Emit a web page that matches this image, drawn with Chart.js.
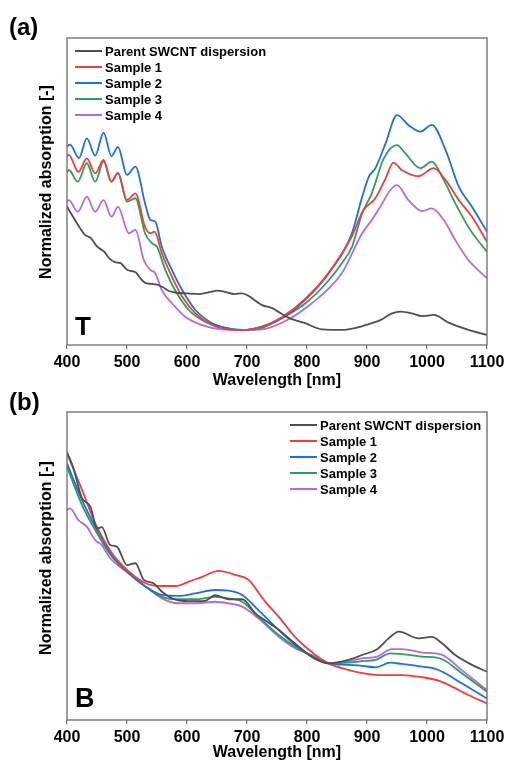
<!DOCTYPE html>
<html>
<head>
<meta charset="utf-8">
<script src="https://cdn.jsdelivr.net/npm/chart.js@4.4.1/dist/chart.umd.min.js"></script>
<style>
  html, body { margin: 0; padding: 0; background: #fff; }
  body { width: 505px; height: 760px; overflow: hidden; position: relative; }
  .panel { position: absolute; left: 0; width: 505px; }
  #boxA { top: 0; height: 395px; }
  #boxB { top: 385px; height: 380px; }
</style>
</head>
<body>
<div class="panel" id="boxA"><canvas id="chartA"></canvas></div>
<div class="panel" id="boxB"><canvas id="chartB"></canvas></div>
<script>
const FONT = '"Liberation Sans", Arial, Helvetica, sans-serif';
Chart.defaults.font.family = FONT;

const seriesNames = ['Parent SWCNT dispersion', 'Sample 1', 'Sample 2', 'Sample 3', 'Sample 4'];
const seriesColors = ['#4f4f4f', '#ef3e3e', '#1f6fdc', '#2f9e5c', '#b46ae0'];
const xTicks = [400, 500, 600, 700, 800, 900, 1000, 1100];

// ---- panel (a), T ----
const parentA_nm = [400,410,420,430,440,450,462,470,480,490,500,515,520,530,540,550,560,570,580,600,620,640,650,660,680,690,700,710,725,742,755,769,797,825,858,886,908,922,942,955,975,992,1011,1036,1069,1100];
const parentA_abs = [45.1,41.8,38.6,35.9,34.8,32.1,30.4,28.3,27.0,26.6,24.5,23.6,22.3,20.3,19.9,19.7,18.8,17.6,17.1,16.8,16.6,17.3,17.7,17.5,16.6,16.8,16.3,15.0,13.0,12.0,10.5,8.9,7.1,5.1,4.9,5.8,7.1,8.1,10.3,10.9,10.3,9.4,9.8,7.3,4.9,3.3];

const s1A_nm = [400,403,419,433,447,461,474,485,500,514,530,539,546,558,575,592,614,642,669,692,725,758,797,836,875,894,914,931,944,958,986,1011,1031,1053,1075,1100];
const s1A_abs = [61.6,61.9,56.4,60.8,55.9,60.3,53.2,55.9,47.2,49.4,38.5,36.4,36.9,29.9,22.2,15.7,10.3,6.5,5.1,4.9,6.0,9.0,15.0,23.5,35.5,44.0,47.8,54.3,59.4,57.0,55.0,57.6,53.7,47.2,41.8,33.6];

const s2A_nm = [400,405,420,433,447,461,474,485,500,514,530,539,547,558,575,592,614,642,669,692,725,758,797,836,875,892,903,914,931,950,970,989,1008,1031,1053,1075,1100];
const s2A_abs = [64.7,65.3,60.9,67.3,61.7,69.2,61.5,64.5,55.4,58.1,46.2,40.7,40.2,32.0,24.4,17.9,11.4,7.1,5.4,4.9,6.0,8.7,14.7,23.3,36.5,48.3,54.8,57.6,65.7,74.9,71.5,69.5,71.7,63.5,51.6,45.0,36.9];

const s3A_nm = [400,403,418,433,447,461,474,485,500,514,530,542,550,564,580,603,630,658,692,725,758,797,836,858,875,892,908,928,950,964,989,1008,1028,1047,1072,1100];
const s3A_abs = [56.2,57.0,53.2,59.2,53.2,59.7,53.2,56.1,46.7,47.8,36.4,33.1,32.0,24.4,17.9,11.4,7.6,5.8,4.9,5.6,8.7,13.5,21.0,26.6,32.0,42.9,49.4,60.8,65.1,62.4,57.6,59.7,53.7,46.2,37.5,30.4];

const s4A_nm = [400,403,418,433,447,461,474,485,503,514,528,539,547,558,575,597,625,658,692,725,760,808,858,892,908,922,939,950,969,992,1008,1028,1047,1069,1100];
const s4A_abs = [46.7,47.2,43.4,48.3,43.4,47.2,41.8,45.0,36.4,37.5,27.7,24.4,23.4,17.9,13.6,9.2,6.5,5.1,4.9,5.1,7.4,13.6,23.4,36.4,40.7,45.0,50.5,52.1,47.2,43.6,44.5,40.7,34.2,27.7,21.7];

// ---- panel (b), B ----
const parentB_nm = [400,410,425,439,450,458,472,483,500,514,528,544,558,575,603,630,647,669,692,714,730,750,770,790,812,836,869,892,917,936,953,986,1008,1025,1047,1075,1100];
const parentB_abs = [87.0,82.2,72.0,69.3,62.2,62.6,56.8,56.3,50.3,50.9,45.5,44.4,41.7,39.5,38.6,38.7,40.5,39.2,39.2,34.6,32.4,29.7,26.5,23.2,20.0,18.4,19.5,21.1,23.0,26.5,28.7,26.5,27.0,24.9,21.1,17.9,15.7];

const s1B_nm = [400,425,447,475,503,531,558,581,603,625,653,681,703,715,730,753,780,814,836,864,892,919,958,992,1019,1036,1069,1100];
const s1B_abs = [86.6,74.7,63.9,54.1,48.2,44.4,43.5,43.5,44.9,46.5,48.4,47.1,45.5,42.5,38.5,33.5,27.0,21.1,18.4,16.5,15.2,14.6,14.6,13.9,12.8,11.4,8.1,5.4];

const s2B_nm = [400,425,447,475,503,531,558,586,614,647,669,692,719,753,780,808,836,869,892,914,939,958,992,1014,1028,1058,1100];
const s2B_abs = [83.3,71.4,62.8,53.6,47.6,43.3,40.6,40.3,41.1,42.2,42.0,40.6,35.7,29.2,24.4,20.6,18.4,17.9,17.6,17.1,18.6,18.2,17.3,16.6,15.4,11.9,7.0];

const s3B_nm = [400,425,447,475,503,531,558,586,614,647,669,692,719,753,780,808,836,869,892,914,939,958,992,1014,1028,1058,1100];
const s3B_abs = [82.2,69.8,61.7,53.0,47.6,43.3,40.0,39.2,39.2,40.0,39.5,38.4,33.5,27.6,23.8,21.0,18.4,18.6,19.1,19.5,21.6,21.4,20.6,20.3,19.5,15.2,9.2];

const s4B_nm = [400,405,419,433,447,458,472,492,508,531,558,586,614,647,669,692,719,753,780,808,836,869,892,917,942,958,992,1014,1028,1058,1100];
const s4B_abs = [68.2,68.7,64.9,62.8,58.4,56.8,52.5,49.2,47.1,43.3,39.5,37.9,37.9,38.4,37.9,36.8,33.0,27.0,23.3,21.0,18.4,19.0,20.0,20.6,23.0,23.0,21.9,21.6,20.9,16.2,9.7];

const toPoints = (xs, ys) => xs.map((x, i) => ({ x: x, y: ys[i] }));

const makeDatasets = (pairs) => pairs.map((p, i) => ({
  label: seriesNames[i],
  data: toPoints(p[0], p[1]),
  borderColor: seriesColors[i],
  backgroundColor: seriesColors[i],
  borderWidth: 1.8,
  pointRadius: 0,
  cubicInterpolationMode: 'monotone',
  fill: false,
}));

// frame, panel tag, corner letter, y title and legend
const decor = {
  id: 'decor',
  afterDraw(chart, args, opts) {
    const ctx = chart.ctx;
    const a = chart.chartArea;
    ctx.save();
    ctx.strokeStyle = '#6b6b6b';
    ctx.lineWidth = 1.3;
    ctx.strokeRect(a.left, a.top, a.right - a.left, a.bottom - a.top);

    ctx.fillStyle = '#000';
    ctx.textAlign = 'left';
    ctx.textBaseline = 'alphabetic';
    ctx.font = 'bold 24px ' + FONT;
    ctx.fillText(opts.tag, 9, opts.tagY);

    ctx.font = 'bold ' + opts.letterSize + 'px ' + FONT;
    ctx.fillText(opts.letter, a.left + 8, a.bottom - opts.letterLift);

    ctx.save();
    ctx.translate(47, opts.titleY);
    ctx.rotate(-Math.PI / 2);
    ctx.textAlign = 'center';
    ctx.textBaseline = 'middle';
    ctx.font = 'bold 16px ' + FONT;
    ctx.fillText('Normalized absorption [-]', 0, 0);
    ctx.restore();

    ctx.font = 'bold 13px ' + FONT;
    ctx.textBaseline = 'middle';
    chart.data.datasets.forEach((ds, i) => {
      const y = opts.legY + i * 16;
      ctx.strokeStyle = ds.borderColor;
      ctx.lineWidth = 2;
      ctx.beginPath();
      ctx.moveTo(opts.legX, y);
      ctx.lineTo(opts.legX + 27, y);
      ctx.stroke();
      ctx.fillStyle = '#000';
      ctx.fillText(ds.label, opts.legX + 30, y + 1);
    });
    ctx.restore();
  }
};

const makeChart = (canvasId, datasets, padTop, axisHeight, titlePad, deco) => new Chart(document.getElementById(canvasId), {
  type: 'line',
  data: { datasets: datasets },
  options: {
    responsive: true,
    maintainAspectRatio: false,
    animation: false,
    layout: { padding: { left: 67, right: 18, top: padTop, bottom: 0 } },
    plugins: {
      legend: { display: false },
      tooltip: { enabled: false },
      decor: deco,
    },
    scales: {
      x: {
        type: 'linear',
        min: 400,
        max: 1100,
        afterBuildTicks: (scale) => { scale.ticks = xTicks.map(v => ({ value: v })); },
        afterFit: (scale) => {
          scale.height = axisHeight;
          scale.paddingLeft = 0;
          scale.paddingRight = 0;
        },
        grid: { display: true, drawOnChartArea: false, drawTicks: true, tickLength: 4, color: '#6b6b6b', lineWidth: 1.2 },
        border: { display: false },
        ticks: {
          color: '#000',
          font: { size: 16, weight: 'bold' },
          padding: 4,
          maxRotation: 0,
          callback: (v) => String(v),
        },
        title: { display: true, text: 'Wavelength [nm]', color: '#000', font: { size: 16, weight: 'bold' }, padding: { top: 0, bottom: titlePad } },
      },
      y: {
        display: false,
        min: 0,
        max: 100,
      },
    },
  },
  plugins: [decor],
});

makeChart('chartA', makeDatasets([
  [parentA_nm, parentA_abs], [s1A_nm, s1A_abs], [s2A_nm, s2A_abs], [s3A_nm, s3A_abs], [s4A_nm, s4A_abs],
]), 38, 50, 4.4, { tag: '(a)', tagY: 35, letter: 'T', letterSize: 26, letterLift: 10, titleY: 182, legX: 75, legY: 51 });

makeChart('chartB', makeDatasets([
  [parentB_nm, parentB_abs], [s1B_nm, s1B_abs], [s2B_nm, s2B_abs], [s3B_nm, s3B_abs], [s4B_nm, s4B_abs],
]), 27, 45, 2.7, { tag: '(b)', tagY: 25, letter: 'B', letterSize: 27, letterLift: 13, titleY: 173, legX: 290, legY: 40 });
</script>
</body>
</html>
